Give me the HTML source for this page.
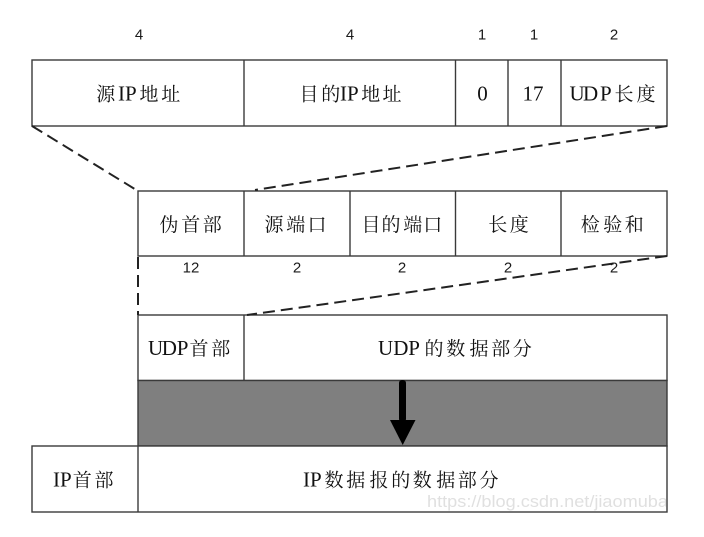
<!DOCTYPE html>
<html><head><meta charset="utf-8"><style>
html,body{margin:0;padding:0;background:#fff;}
svg{display:block;}
.cj{font-family:"Noto Serif CJK SC","Liberation Serif",serif;font-size:19px;fill:#111;}
.lt{font-family:"Liberation Serif",serif;font-size:21px;fill:#111;}
.nm{font-family:"Liberation Sans",sans-serif;font-size:15px;fill:#1a1a1a;}
</style></head><body>
<svg width="704" height="537" viewBox="0 0 704 537" xmlns="http://www.w3.org/2000/svg">
<defs><clipPath id="c"><rect x="138" y="446" width="528" height="66"/></clipPath></defs>
<g fill="#fff" stroke="#3a3a3a" stroke-width="1.4">
<rect x="32" y="60" width="635" height="66"/>
<line x1="244" y1="60" x2="244" y2="126"/>
<line x1="455.5" y1="60" x2="455.5" y2="126"/>
<line x1="508" y1="60" x2="508" y2="126"/>
<line x1="561" y1="60" x2="561" y2="126"/>
<rect x="138" y="191" width="529" height="65"/>
<line x1="244" y1="191" x2="244" y2="256"/>
<line x1="350" y1="191" x2="350" y2="256"/>
<line x1="455.5" y1="191" x2="455.5" y2="256"/>
<line x1="561" y1="191" x2="561" y2="256"/>
<rect x="138" y="315" width="529" height="65.5"/>
<line x1="244" y1="315" x2="244" y2="380.5"/>
<rect x="138" y="380.5" width="529" height="65.5" fill="#7f7f7f"/>
<rect x="32" y="446" width="635" height="66"/>
<line x1="138" y1="446" x2="138" y2="512"/>
</g>
<g stroke="#222" stroke-width="2" stroke-dasharray="12,6" fill="none">
<line x1="32" y1="126" x2="138" y2="191"/>
<line x1="667" y1="126" x2="255" y2="190"/>
<line x1="667" y1="256" x2="247" y2="315"/>
<line x1="138" y1="257" x2="138" y2="315"/>
</g>
<g class="nm" text-anchor="middle" dominant-baseline="central">
<text x="139" y="35">4</text>
<text x="350" y="35">4</text>
<text x="482" y="35">1</text>
<text x="534" y="35">1</text>
<text x="614" y="35">2</text>
<text x="191" y="268">12</text>
<text x="297" y="268">2</text>
<text x="402" y="268">2</text>
<text x="508" y="268">2</text>
<text x="614" y="268">2</text>
</g>

<text y="100.5"><tspan class="cj" x="96.2">源</tspan><tspan class="lt" x="118 125">IP</tspan><tspan class="cj" x="139.5 161.2">地址</tspan></text>
<text y="100.5"><tspan class="cj" x="299.5 321.2">目的</tspan><tspan class="lt" x="340 347">IP</tspan><tspan class="cj" x="361.2 382.5">地址</tspan></text>
<text class="lt" x="482.5" y="100.5" text-anchor="middle">0</text>
<text class="lt" x="533" y="100.5" text-anchor="middle">17</text>
<text y="100.5"><tspan class="lt" x="569.5 583 600">UDP</tspan><tspan class="cj" x="614.5 636.5">长度</tspan></text>

<text class="cj" y="231" x="159.5 181.2 202.8">伪首部</text>
<text class="cj" y="231" x="264.5 286.2 307.5">源端口</text>
<text class="cj" y="231" x="361.5 381.5 403.2 423.2">目的端口</text>
<text class="cj" y="231" x="488.2 509.8">长度</text>
<text class="cj" y="231" x="580.8 603.2 624.8">检验和</text>

<text y="355"><tspan class="lt" x="148 161.7 176.7">UDP</tspan><tspan class="cj" x="189.5 211.2">首部</tspan></text>
<text y="355"><tspan class="lt" x="378 393.3 408.3">UDP</tspan><tspan class="cj" x="424.5 446.2 469.5 491.2 512.8">的数据部分</tspan></text>

<text y="486.5"><tspan class="lt" x="53 60">IP</tspan><tspan class="cj" x="72.8 94.5">首部</tspan></text>
<text y="486.5"><tspan class="lt" x="303 310">IP</tspan><tspan class="cj" x="324.5 346.2 369.5 391.2 412.8 436.2 457.8 479.5">数据报的数据部分</tspan></text>

<g fill="#000">
<rect x="399" y="380" width="7" height="42" rx="3"/>
<polygon points="390,420 415.5,420 402.7,445"/>
</g>
<g clip-path="url(#c)">
<text x="427" y="507" font-family="Liberation Sans, sans-serif" font-size="17" fill="#d8d8d8" fill-opacity="0.8" textLength="245" lengthAdjust="spacingAndGlyphs">https://blog.csdn.net/jiaomubai</text>
</g>
</svg>
</body></html>
